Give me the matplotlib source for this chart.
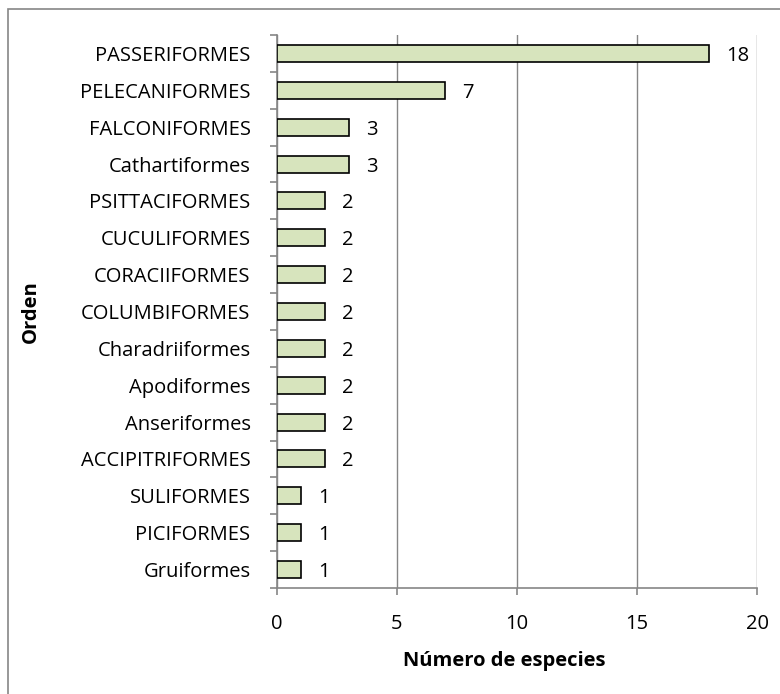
import matplotlib
matplotlib.use("Agg")
import matplotlib.pyplot as plt
from matplotlib.patches import Rectangle

categories = ["PASSERIFORMES", "PELECANIFORMES", "FALCONIFORMES", "Cathartiformes",
              "PSITTACIFORMES", "CUCULIFORMES", "CORACIIFORMES", "COLUMBIFORMES",
              "Charadriiformes", "Apodiformes", "Anseriformes", "ACCIPITRIFORMES",
              "SULIFORMES", "PICIFORMES", "Gruiformes"]
values = [18, 7, 3, 3, 2, 2, 2, 2, 2, 2, 2, 2, 1, 1, 1]
xticks = [0, 5, 10, 15, 20]

plt.rcParams['font.family'] = ['Open Sans', 'DejaVu Sans']
FS = 14.5

W, H = 780, 694
fig = plt.figure(figsize=(W / 100, H / 100), dpi=100)
ax = fig.add_axes([277 / W, 1 - 588 / H, (757 - 277) / W, (588 - 35) / H])

n = len(categories)
ypos = list(range(n))[::-1]
ax.barh(ypos, values, height=0.46, color="#D7E4BD", edgecolor="black", linewidth=1.2, zorder=3)
for y, v in zip(ypos, values):
    ax.text(v + 0.7, y, str(v), va="center_baseline", ha="left", fontsize=FS, zorder=4)

ax.set_xlim(0, 20)
ax.set_ylim(-0.5, n - 0.5)
ax.set_xticks(xticks)
ax.set_xticklabels([str(t) for t in xticks], fontsize=FS)
ax.set_yticks(ypos)
ax.set_yticklabels(categories, fontsize=FS)
ax.set_yticks([i - 0.5 for i in range(n + 1)], minor=True)
ax.tick_params(axis="y", which="major", length=0, pad=19)
ax.tick_params(axis="y", which="minor", length=5, color="#868686", width=1.2)
ax.tick_params(axis="x", which="major", length=5, color="#868686", width=1.2, pad=14)
ax.grid(axis="x", color="#868686", linewidth=1.0, zorder=0)
for s in ["top", "right"]:
    ax.spines[s].set_visible(False)
for s in ["left", "bottom"]:
    ax.spines[s].set_color("#868686")
    ax.spines[s].set_linewidth(1.2)

ax.set_xlabel("Número de especies", fontsize=FS, fontweight="bold")
ax.xaxis.set_label_coords((504 - 277) / (757 - 277), -(661 - 588) / (588 - 35))
ax.xaxis.label.set_va("center")
ax.set_ylabel("Orden", fontsize=FS, fontweight="bold")
ax.yaxis.set_label_coords((31 - 277) / (757 - 277), 0.5)
ax.yaxis.label.set_va("center")

fig.patches.append(Rectangle((8 / W, -0.1), 1.2, 1 - 9 / H + 0.1, transform=fig.transFigure,
                             fill=False, edgecolor="#868686", linewidth=1.2))

fig.savefig("out.png", dpi=100)
